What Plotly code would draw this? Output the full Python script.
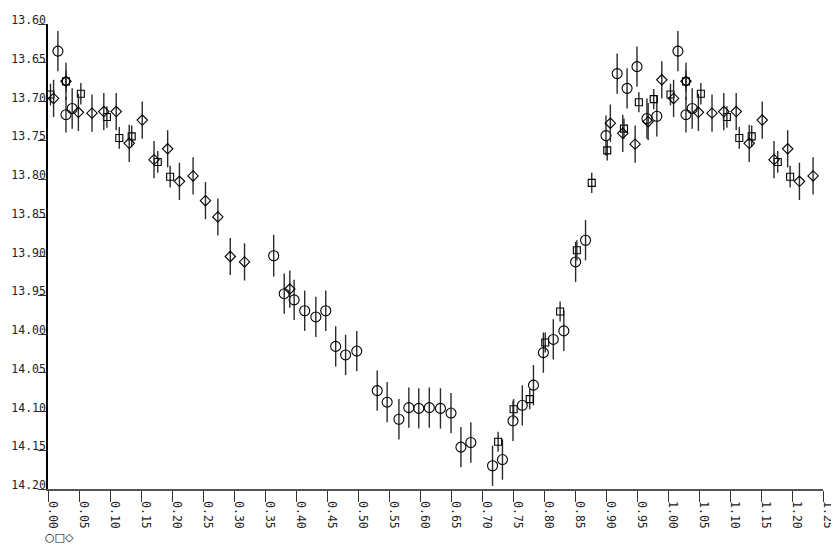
import plotly.graph_objects as go

# Circles
circ_phase = [0.016, 0.029, 0.039, 0.364, 0.381, 0.397, 0.414, 0.432, 0.448, 0.464,
              0.480, 0.498, 0.531, 0.547, 0.566, 0.582, 0.598, 0.615, 0.633, 0.650,
              0.666, 0.682, 0.717, 0.733, 0.750, 0.765, 0.783, 0.799, 0.815, 0.832,
              0.851, 0.867, 0.900, 0.918, 0.934, 0.950, 0.966, 0.982]
circ_mag = [13.635, 13.717, 13.709, 13.899, 13.948, 13.956, 13.970, 13.978, 13.970, 14.016,
            14.027, 14.022, 14.073, 14.088, 14.110, 14.095, 14.096, 14.095, 14.096, 14.102,
            14.146, 14.140, 14.170, 14.162, 14.112, 14.092, 14.066, 14.024, 14.007, 13.996,
            13.907, 13.879, 13.744, 13.664, 13.683, 13.655, 13.722, 13.719]
circ_err = [0.026, 0.023, 0.026, 0.027, 0.026, 0.026, 0.026, 0.026, 0.026, 0.026,
            0.026, 0.026, 0.026, 0.026, 0.026, 0.026, 0.026, 0.026, 0.026, 0.026,
            0.026, 0.026, 0.026, 0.026, 0.026, 0.026, 0.026, 0.026, 0.026, 0.026,
            0.026, 0.026, 0.026, 0.026, 0.026, 0.026, 0.026, 0.026]

# Squares
sq_phase = [0.004, 0.029, 0.053, 0.095, 0.115, 0.135, 0.177, 0.197, 0.726, 0.751,
            0.777, 0.802, 0.826, 0.853, 0.877, 0.902, 0.929, 0.953, 0.977]
sq_mag = [13.691, 13.674, 13.690, 13.720, 13.747, 13.745, 13.778, 13.797, 14.139, 14.097,
          14.084, 14.011, 13.971, 13.892, 13.805, 13.763, 13.735, 13.701, 13.697]
sq_err = [0.014, 0.014, 0.014, 0.014, 0.014, 0.014, 0.014, 0.014, 0.013, 0.013,
          0.013, 0.013, 0.013, 0.013, 0.013, 0.013, 0.013, 0.013, 0.013]

# Diamonds
dia_phase = [0.009, 0.029, 0.049, 0.071, 0.090, 0.110, 0.131, 0.152, 0.171, 0.193,
             0.212, 0.234, 0.254, 0.274, 0.294, 0.317, 0.390, 0.907, 0.927, 0.947,
             0.968, 0.990]
dia_mag = [13.696, 13.674, 13.714, 13.715, 13.713, 13.713, 13.754, 13.724, 13.775, 13.761,
           13.803, 13.796, 13.828, 13.849, 13.900, 13.907, 13.942, 13.728, 13.741, 13.755,
           13.726, 13.672]
dia_err = [0.024, 0.024, 0.024, 0.024, 0.024, 0.024, 0.024, 0.024, 0.024, 0.024,
           0.024, 0.024, 0.024, 0.024, 0.024, 0.024, 0.024, 0.024, 0.024, 0.024,
           0.024, 0.024]

x_ticks = [round(0.05 * i, 2) for i in range(26)]
x_ticklabels = ["%.2f" % v for v in x_ticks]
y_ticks = [13.60, 13.65, 13.70, 13.75, 13.80, 13.85, 13.90, 13.95, 14.00, 14.05, 14.10, 14.15, 14.20]
y_ticklabels = ["%.2f" % v for v in y_ticks]

FOLD_LIMIT = 0.25


def fold(ph, mag, err):
    p2, m2, e2 = list(ph), list(mag), list(err)
    for p, m, e in zip(ph, mag, err):
        if p < FOLD_LIMIT:
            p2.append(p + 1.0)
            m2.append(m)
            e2.append(e)
    return p2, m2, e2


fig = go.Figure()
series = [
    (circ_phase, circ_mag, circ_err, "circle-open", 10),
    (sq_phase, sq_mag, sq_err, "square-open", 7),
    (dia_phase, dia_mag, dia_err, "diamond-open", 8),
]
for ph, mag, err, sym, size in series:
    p, m, e = fold(ph, mag, err)
    fig.add_trace(go.Scatter(
        x=p, y=m, mode="markers",
        marker=dict(symbol=sym, size=size, color="black", line=dict(width=1.1, color="black")),
        error_y=dict(type="data", array=e, visible=True, color="#2a2a2a", thickness=1.4, width=0),
        showlegend=False, cliponaxis=False,
    ))

fig.add_annotation(text="○□◇", xref="paper", yref="paper", x=-0.006, y=-0.105,
                   xanchor="left", yanchor="middle", showarrow=False,
                   font=dict(family="DejaVu Sans", size=11, color="black"))

# The page body has an 8px margin, so the figure is shrunk by that amount
fig.update_layout(
    width=831, height=538,
    margin=dict(l=40, r=16, t=16, b=57, autoexpand=False),
    paper_bgcolor="white", plot_bgcolor="white",
    font=dict(family="DejaVu Sans Mono", size=11.5, color="#222"),
    xaxis=dict(range=[0, 1.25], tickvals=x_ticks, ticktext=x_ticklabels, tickangle=90,
               showgrid=False, zeroline=False, showline=True, linecolor="#555", linewidth=1.5,
               ticks="outside", ticklen=11, tickcolor="#333", tickwidth=1,
               ticklabelposition="outside", ticklabelstandoff=-3, ticklabelshift=5,
               automargin=False),
    yaxis=dict(range=[14.20, 13.60], tickvals=y_ticks, ticktext=y_ticklabels,
               showgrid=False, zeroline=False, showline=True, linecolor="black", linewidth=1.5,
               ticks="outside", ticklen=8, tickcolor="#333", tickwidth=1,
               ticklabelposition="outside", ticklabelstandoff=-10, ticklabelshift=4,
               automargin=False),
)

fig.write_html("out.html")
